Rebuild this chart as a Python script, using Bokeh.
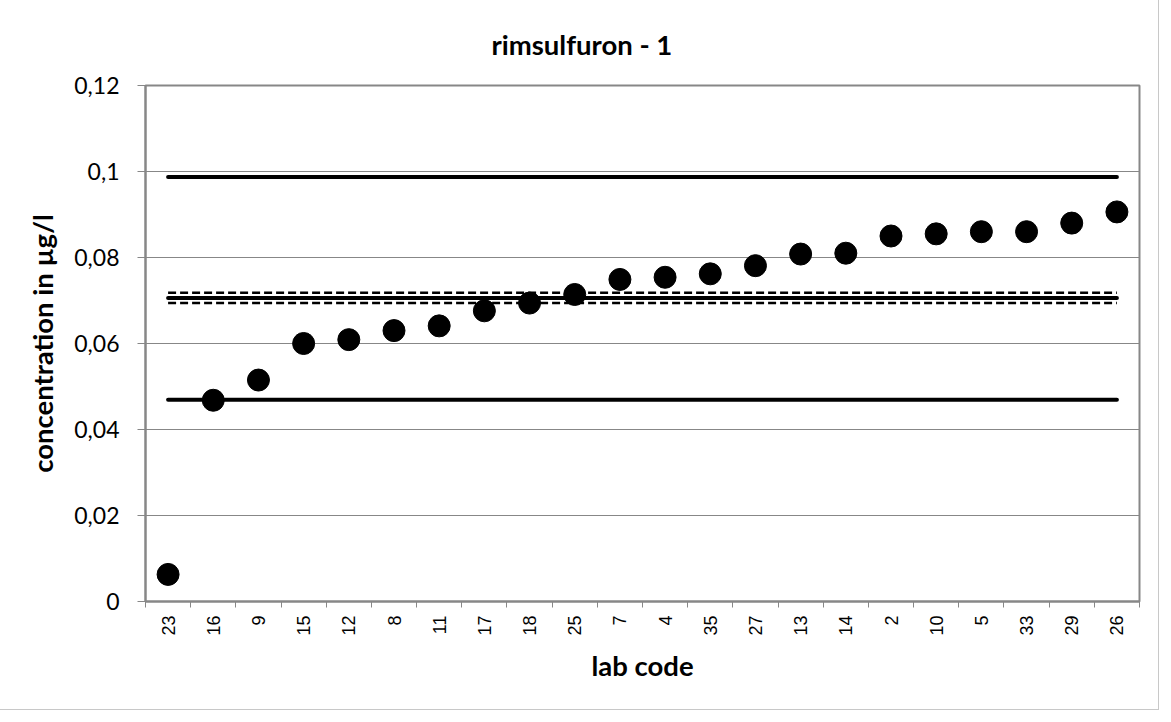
import numpy as np
from bokeh.plotting import figure
from bokeh.models import FixedTicker
from bokeh.embed import file_html
from bokeh.resources import INLINE

# ---- data ----
lab_codes = ["23", "16", "9", "15", "12", "8", "11", "17", "18", "25", "7",
             "4", "35", "27", "13", "14", "2", "10", "5", "33", "29", "26"]
concentrations = [0.0063, 0.0468, 0.0515, 0.0600, 0.0609, 0.0630, 0.0641, 0.0676,
                  0.0694, 0.0714, 0.0749, 0.0754, 0.0762, 0.0781, 0.0808, 0.0810,
                  0.0850, 0.0855, 0.0860, 0.0860, 0.0880, 0.0906]
upper_limit = 0.0987
lower_limit = 0.0469
assigned_value = 0.0706
uncertainty_upper = 0.0718
uncertainty_lower = 0.0694
y_ticks = [0, 0.02, 0.04, 0.06, 0.08, 0.1, 0.12]
y_tick_labels = ["0", "0,02", "0,04", "0,06", "0,08", "0,1", "0,12"]

title_text = "rimsulfuron - 1"
x_title = "lab code"
y_title = "concentration in µg/l"

CAL = "Lato"
ARIAL = "Liberation Sans"
GRAY = "#878787"

n = len(lab_codes)
xs = np.arange(n) + 0.5

p = figure(width=1155, height=706, output_backend="svg", toolbar_location=None,
           x_range=(0, n), y_range=(0, 0.12),
           min_border_left=145, min_border_right=16,
           min_border_top=85, min_border_bottom=105)
p.styles = {"outline": "1px solid #c8c8c8", "outline-offset": "3px"}

# title
p.title.text = title_text
p.title.align = "left"
p.title.offset = 346
p.title.text_font = CAL
p.title.text_font_style = "bold"
p.title.text_font_size = "27.5px"
p.title.text_color = "black"
p.title.standoff = 49

p.outline_line_color = GRAY
p.outline_line_width = 2
p.background_fill_color = "white"
p.border_fill_color = "white"

# x axis
xa = p.xaxis[0]
xa.ticker = FixedTicker(ticks=list(xs), minor_ticks=list(np.arange(n + 1)))
xa.major_label_overrides = {float(x): lab for x, lab in zip(xs, lab_codes)}
xa.major_label_orientation = np.pi / 2
xa.major_tick_line_color = None
xa.major_tick_out = 6
xa.minor_tick_line_color = GRAY
xa.minor_tick_out = 6
xa.minor_tick_in = 0
xa.minor_tick_line_width = 1
xa.axis_line_color = GRAY
xa.axis_line_width = 2
xa.major_label_text_font = ARIAL
xa.major_label_text_font_size = "18px"
xa.major_label_text_color = "black"
xa.major_label_standoff = 8
xa.axis_label = x_title
xa.axis_label_text_font = CAL
xa.axis_label_text_font_style = "bold"
xa.axis_label_text_font_size = "27.5px"
xa.axis_label_text_color = "black"
xa.axis_label_standoff = 10

# y axis
ya = p.yaxis[0]
ya.ticker = FixedTicker(ticks=y_ticks)
ya.major_label_overrides = {float(t): lab for t, lab in zip(y_ticks, y_tick_labels)}
ya.major_tick_line_color = GRAY
ya.major_tick_out = 8
ya.major_tick_in = 0
ya.minor_tick_line_color = None
ya.axis_line_color = GRAY
ya.axis_line_width = 2
ya.major_label_text_font = CAL
ya.major_label_text_font_size = "23px"
ya.major_label_text_color = "black"
ya.major_label_standoff = 18
ya.axis_label = y_title
ya.axis_label_text_font = CAL
ya.axis_label_text_font_style = "bold"
ya.axis_label_text_font_size = "27.5px"
ya.axis_label_text_color = "black"
ya.axis_label_standoff = 12

p.xgrid.grid_line_color = None
p.ygrid.grid_line_color = GRAY
p.ygrid.grid_line_width = 1

x_ends = [xs[0], xs[-1]]
for v in (upper_limit, lower_limit, assigned_value):
    p.line(x_ends, [v, v], line_color="black", line_width=4, line_cap="round")
for v in (uncertainty_upper, uncertainty_lower):
    p.line(x_ends, [v, v], line_color="black", line_width=2.5, line_dash="8 4")

p.scatter(xs, concentrations, size=22, marker="circle", fill_color="black", line_color="black")

open("out.html", "w").write(file_html(p, INLINE))
